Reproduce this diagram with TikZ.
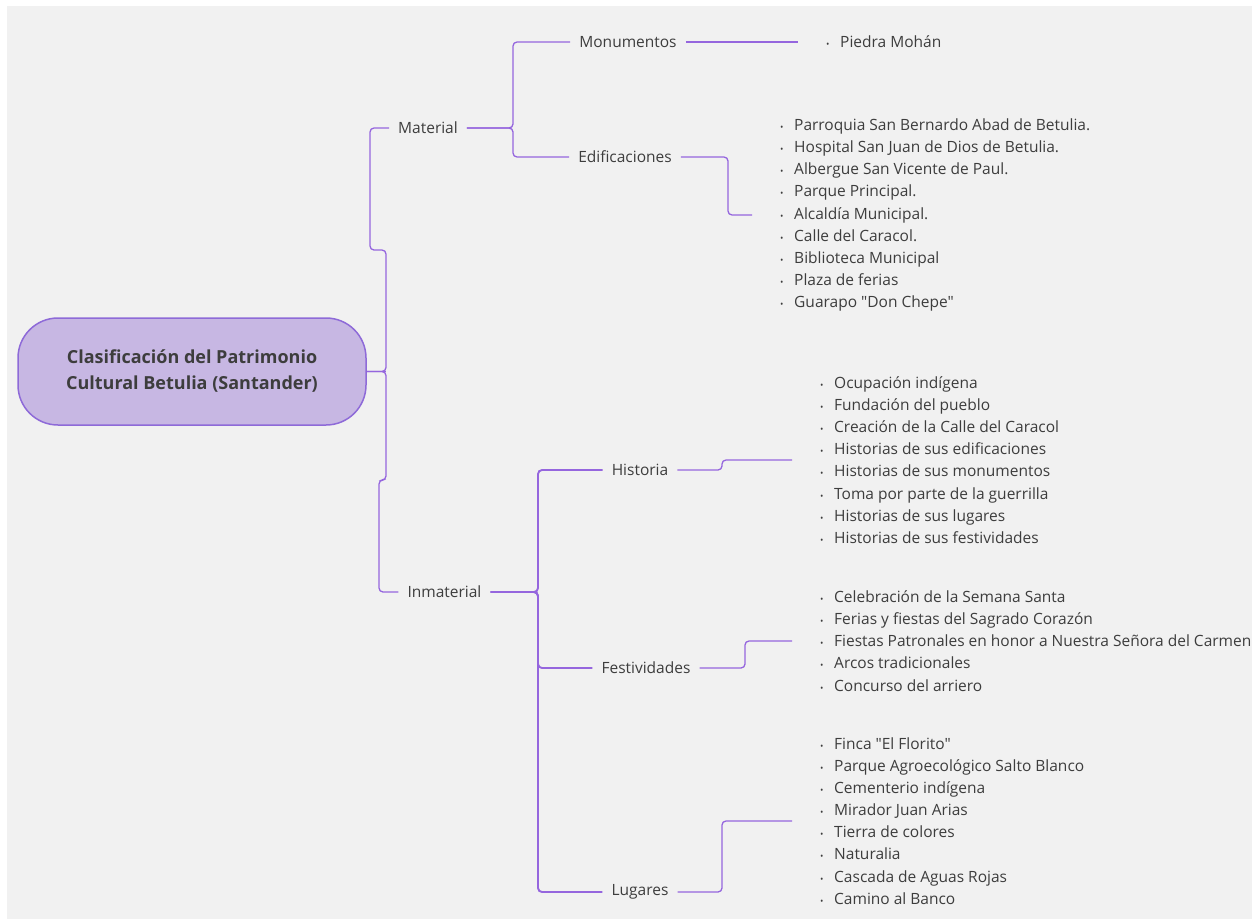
\documentclass[tikz,border=0pt]{standalone}
\usepackage{fontspec}
\setmainfont{Open Sans}[Ligatures=TeXOff]
\definecolor{bg}{HTML}{F1F1F1}
\definecolor{ln}{HTML}{9566DE}
\definecolor{txt}{HTML}{3D3D3D}
\definecolor{rootfill}{HTML}{C7B7E3}
\definecolor{rootdraw}{HTML}{8E6AD8}
\newcommand\bl{\makebox[14pt][l]{{\fontsize{9}{9}\selectfont •}}}
\tikzset{
  lbl/.style={text=txt, font=\fontsize{15.5}{18}\selectfont, inner xsep=9pt, inner ysep=2pt},
  lst/.style={text=txt, font=\fontsize{15.5}{22.1}\selectfont, align=left, anchor=west, inner xsep=28pt, inner ysep=0pt},
  conn/.style={draw=ln, line width=1.3pt, rounded corners=4pt},
  connb/.style={draw=ln, line width=1.9pt, rounded corners=4pt},
  rootbox/.style={draw=rootdraw, line width=1.5pt, fill=rootfill, rounded corners=40pt,
    minimum width=348pt, minimum height=107pt, text=txt, align=center,
    font=\bfseries\fontsize{18}{26}\selectfont}
}
\begin{document}
\begin{tikzpicture}[x=1pt,y=-1pt]
\useasboundingbox (0,0) rectangle (1252,919);
\fill[bg] (7,6) rectangle (1252,919);

\node[rootbox] (root) at (192,371.5) {Clasificación del Patrimonio\\Cultural Betulia (Santander)};

\node[lbl] (mat) at (428,128) {Material};
\node[lbl] (inm) at (444.5,592) {Inmaterial};
\node[lbl] (mon) at (628,42) {Monumentos};
\node[lbl] (edi) at (625,157) {Edificaciones};
\node[lbl] (his) at (640,470) {Historia};
\node[lbl] (fes) at (646,668) {Festividades};
\node[lbl] (lug) at (640,892) {Lugares};

\node[lst] (pm) at (798,42) {\bl Piedra Mohán};
\node[lst] (edl) at (752,215) {\bl Parroquia San Bernardo Abad de Betulia.\\
\bl Hospital San Juan de Dios de Betulia.\\
\bl Albergue San Vicente de Paul.\\
\bl Parque Principal.\\
\bl Alcaldía Municipal.\\
\bl Calle del Caracol.\\
\bl Biblioteca Municipal\\
\bl Plaza de ferias\\
\bl Guarapo "Don Chepe"};
\node[lst] (hil) at (792,460) {\bl Ocupación indígena\\
\bl Fundación del pueblo\\
\bl Creación de la Calle del Caracol\\
\bl Historias de sus edificaciones\\
\bl Historias de sus monumentos\\
\bl Toma por parte de la guerrilla\\
\bl Historias de sus lugares\\
\bl Historias de sus festividades};
\node[lst] (fel) at (792,641) {\bl Celebración de la Semana Santa\\
\bl Ferias y fiestas del Sagrado Corazón\\
\bl Fiestas Patronales en honor a Nuestra Señora del Carmen\\
\bl Arcos tradicionales\\
\bl Concurso del arriero};
\node[lst] (lul) at (792,821) {\bl Finca "El Florito"\\
\bl Parque Agroecológico Salto Blanco\\
\bl Cementerio indígena\\
\bl Mirador Juan Arias\\
\bl Tierra de colores\\
\bl Naturalia\\
\bl Cascada de Aguas Rojas\\
\bl Camino al Banco};

% root brace
\draw[connb] (root.east) -- (386,371.5);
\draw[conn] (root.east) -- (386,371.5) -- (386,250) -- (370,250) |- (mat.west);
\draw[conn] (root.east) -- (386,371.5) -- (386,480) -- (379,480) |- (inm.west);
% material
\draw[conn] (mat.east) -- (513,128) |- (mon.west);
\draw[conn] (mat.east) -- (513,128) |- (edi.west);
% inmaterial
\draw[connb] (inm.east) -- (538,592) |- (his.west);
\draw[connb] (inm.east) -- (538,592) |- (fes.west);
\draw[connb] (inm.east) -- (538,592) |- (lug.west);
% leaves
\draw[conn] (mon.east) -- (pm.west);
\draw[conn] (edi.east) -- (728,157) |- (edl.west);
\draw[conn] (his.east) -- (722,470) |- (hil.west);
\draw[conn] (fes.east) -- (745,668) |- (fel.west);
\draw[conn] (lug.east) -- (722,892) |- (lul.west);
\end{tikzpicture}
\end{document}
